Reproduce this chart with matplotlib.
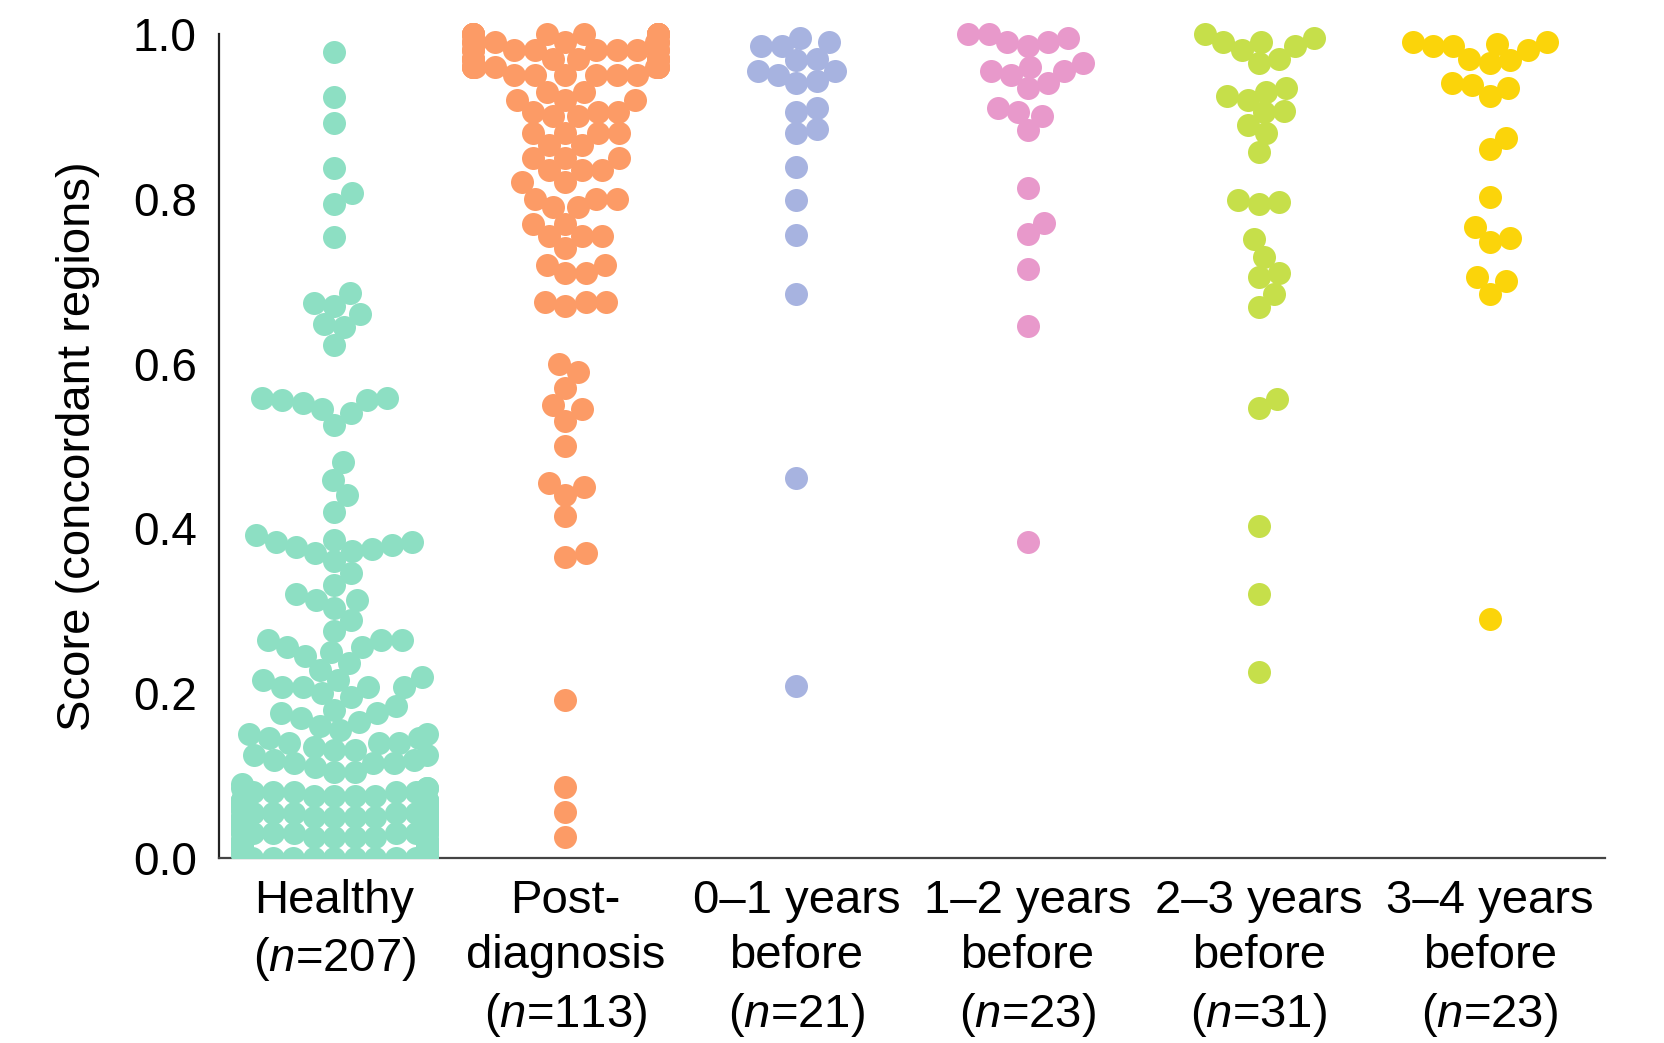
import warnings
warnings.filterwarnings("ignore")
import math
import matplotlib
matplotlib.use("Agg")
import matplotlib.pyplot as plt
from matplotlib import font_manager

# ---------------- data ----------------
categories = ["Healthy", "Post-diagnosis", "0-1", "1-2", "2-3", "3-4"]
tick_labels = [
    "Healthy\n($n$=207)",
    "Post-\ndiagnosis\n($n$=113)",
    "0\u20131 years\nbefore\n($n$=21)",
    "1\u20132 years\nbefore\n($n$=23)",
    "2\u20133 years\nbefore\n($n$=31)",
    "3\u20134 years\nbefore\n($n$=23)",
]
colors = ["#8ddfc3", "#fc9b66", "#a7b3e0", "#e899cb", "#c6df4a", "#fbd40a"]

healthy = [
    0.978, 0.924, 0.892, 0.837, 0.807, 0.794, 0.754,
    0.686, 0.674, 0.670, 0.660, 0.648, 0.645, 0.623,
    0.558, 0.558, 0.556, 0.556, 0.552, 0.545, 0.540, 0.525,
    0.481, 0.459, 0.440, 0.420,
    0.392, 0.386, 0.384, 0.384, 0.380, 0.378, 0.375, 0.372, 0.370, 0.360,
    0.346, 0.331, 0.320, 0.313, 0.313, 0.303, 0.289,
    0.275, 0.265, 0.265, 0.265, 0.256, 0.256, 0.250, 0.245,
    0.237, 0.228, 0.220, 0.216, 0.216,
    0.208, 0.208, 0.208, 0.208, 0.200, 0.195,
    0.185, 0.180, 0.176, 0.176, 0.170, 0.165, 0.160,
    0.155, 0.151, 0.150, 0.145, 0.145, 0.139, 0.139, 0.139, 0.135, 0.131, 0.131,
    0.125, 0.125, 0.119, 0.119, 0.115, 0.115, 0.115, 0.110, 0.104, 0.104,
    0.000, 0.000, 0.000, 0.000, 0.000, 0.000, 0.000, 0.000, 0.000, 0.000,
    0.005, 0.005, 0.005, 0.005,
    0.010, 0.010, 0.010, 0.010, 0.010, 0.010, 0.010, 0.010, 0.010, 0.010,
    0.015, 0.015, 0.015, 0.015,
    0.020, 0.020, 0.020, 0.020, 0.020, 0.020, 0.020, 0.020, 0.020, 0.020,
    0.025, 0.025, 0.025, 0.025,
    0.030, 0.030, 0.030, 0.030, 0.030, 0.030, 0.030, 0.030, 0.030, 0.030,
    0.035, 0.035, 0.035, 0.035,
    0.040, 0.040, 0.040, 0.040, 0.040, 0.040, 0.040, 0.040, 0.040, 0.040,
    0.045, 0.045, 0.045, 0.045,
    0.050, 0.050, 0.050, 0.050, 0.050, 0.050, 0.050, 0.050, 0.050,
    0.055, 0.055, 0.055, 0.055, 0.055, 0.055,
    0.060, 0.060, 0.060, 0.060, 0.060, 0.060, 0.060, 0.060,
    0.065, 0.065, 0.065, 0.065, 0.065,
    0.070, 0.070, 0.070, 0.070, 0.070, 0.070,
    0.075, 0.075, 0.075, 0.075,
    0.080, 0.080, 0.080, 0.080, 0.080,
    0.085, 0.085, 0.085,
    0.090,
]

post_diagnosis = [
    1.000, 1.000, 1.000, 1.000, 1.000, 1.000, 1.000, 1.000, 1.000, 1.000, 1.000,
    0.990, 0.990, 0.990, 0.990, 0.990, 0.990, 0.990, 0.990,
    0.980, 0.980, 0.980, 0.980, 0.980, 0.980, 0.980, 0.980, 0.980,
    0.970, 0.970, 0.970, 0.970, 0.970, 0.970, 0.970, 0.970, 0.970,
    0.960, 0.960, 0.960, 0.960, 0.960, 0.960, 0.960, 0.960, 0.960,
    0.950, 0.950, 0.950, 0.950, 0.950, 0.950,
    0.930, 0.930, 0.920, 0.920, 0.920, 0.905, 0.905, 0.905, 0.900, 0.900,
    0.880, 0.880, 0.880, 0.880, 0.865, 0.865, 0.850, 0.850, 0.850,
    0.835, 0.835, 0.835, 0.820, 0.820, 0.800, 0.800, 0.800, 0.790, 0.790,
    0.770, 0.770, 0.755, 0.755, 0.755, 0.740, 0.720, 0.720, 0.710, 0.710,
    0.675, 0.675, 0.675, 0.670,
    0.600, 0.590, 0.570, 0.550, 0.545, 0.530, 0.500,
    0.455, 0.450, 0.440, 0.415, 0.370, 0.365,
    0.192, 0.086, 0.056, 0.026,
]

years_0_1 = [
    0.995, 0.990, 0.985, 0.985,
    0.970, 0.968, 0.955, 0.955, 0.950, 0.943, 0.940,
    0.910, 0.905, 0.885, 0.880,
    0.838, 0.799, 0.756, 0.684, 0.461, 0.209,
]

years_1_2 = [
    1.000, 1.000, 0.995, 0.990, 0.990, 0.985,
    0.965, 0.960, 0.955, 0.955, 0.950,
    0.940, 0.935, 0.910, 0.905, 0.900, 0.883,
    0.813, 0.771, 0.757, 0.715, 0.646, 0.384,
]

years_2_3 = [
    1.000, 0.995, 0.990, 0.990, 0.985, 0.980,
    0.970, 0.965, 0.935, 0.930, 0.925, 0.920,
    0.907, 0.905, 0.890, 0.880, 0.857,
    0.798, 0.796, 0.794,
    0.751, 0.729, 0.710, 0.705, 0.685, 0.669,
    0.557, 0.546, 0.403, 0.320, 0.226,
]

years_3_4 = [
    0.990, 0.990, 0.988, 0.985, 0.985, 0.980,
    0.970, 0.968, 0.965, 0.940, 0.938, 0.935, 0.925,
    0.874, 0.860, 0.802, 0.766, 0.752, 0.748, 0.705, 0.700, 0.685, 0.290,
]

groups = [healthy, post_diagnosis, years_0_1, years_1_2, years_2_3, years_3_4]

# ---------------- fonts ----------------
available = {f.name for f in font_manager.fontManager.ttflist}
base_font = "Liberation Sans" if "Liberation Sans" in available else "DejaVu Sans"
plt.rcParams["font.family"] = [base_font, "DejaVu Sans"]
plt.rcParams["mathtext.fontset"] = "custom"
plt.rcParams["mathtext.rm"] = base_font
plt.rcParams["mathtext.it"] = base_font + ":italic"

# ---------------- figure ----------------
DPI = 100
fig = plt.figure(figsize=(16.65, 10.43), dpi=DPI)
ax = fig.add_axes([0.1315, 0.1774, 0.8325, 0.8058])
YMAX = 1.02
ax.set_xlim(-0.5, len(categories) - 0.5)
ax.set_ylim(0, YMAX)

bbox = ax.get_window_extent()
x_px = bbox.width / len(categories)   # pixels per category unit
y_px = bbox.height / YMAX             # pixels per score unit

MARKER_DIAM_PX = 23.0    # drawn marker diameter
SPACING_PX = 20.5        # swarm packing distance (markers overlap slightly)
HALF_WIDTH = 0.4         # swarm limited to +/-0.4 category units


def swarm_offsets(values):
    """Beeswarm layout in pixel space (points placed in ascending order)."""
    d = SPACING_PX
    order = sorted(range(len(values)), key=lambda i: values[i])
    placed = []
    offsets = [0.0] * len(values)
    for i in order:
        y = values[i] * y_px
        neigh = [(px, py) for px, py in placed if abs(py - y) < d]
        cands = [0.0]
        for px, py in neigh:
            dx = math.sqrt(max(d * d - (py - y) ** 2, 0.0))
            cands.extend([px + dx, px - dx])
        cands.sort(key=lambda c: (round(abs(c), 6), -c))
        best = cands[-1]
        for c in cands:
            if all((c - px) ** 2 + (y - py) ** 2 >= d * d - 1e-6 for px, py in neigh):
                best = c
                break
        placed.append((best, y))
        offsets[i] = best
    limit = HALF_WIDTH * x_px
    return [max(-limit, min(limit, o)) / x_px for o in offsets]


s_pts = (MARKER_DIAM_PX * 72.0 / DPI) ** 2
for k, (vals, col) in enumerate(zip(groups, colors)):
    offs = swarm_offsets(vals)
    xs = [k + o for o in offs]
    ax.scatter(xs, vals, s=s_pts, color=col, linewidths=0, clip_on=True, zorder=3)

for s in ["top", "right"]:
    ax.spines[s].set_visible(False)
ax.spines["left"].set_bounds(0, 1.0)
ax.spines["left"].set_linewidth(1.6)
ax.spines["bottom"].set_linewidth(1.6)
ax.spines["left"].set_color("#222222")
ax.spines["bottom"].set_color("#444444")

ax.set_yticks([0.0, 0.2, 0.4, 0.6, 0.8, 1.0])
ax.set_yticklabels(["0.0", "0.2", "0.4", "0.6", "0.8", "1.0"], fontsize=33)
ax.tick_params(axis="y", length=0, pad=16)

ax.set_xticks(range(len(categories)))
ax.set_xticklabels(tick_labels, fontsize=34, linespacing=1.34)
ax.tick_params(axis="x", length=0, pad=15)

ax.set_ylabel("Score (concordant regions)", fontsize=34)
ax.yaxis.set_label_coords(-0.086, 0.49)

fig.savefig("out.png", dpi=DPI, facecolor="white")
